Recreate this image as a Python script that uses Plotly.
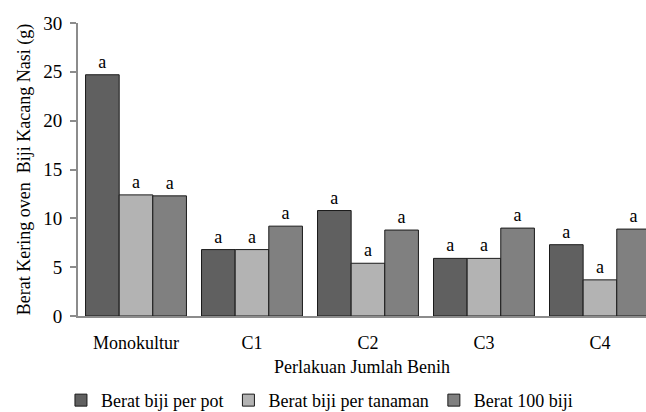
import plotly.graph_objects as go

# Treatment groups on the x axis
categories = ["Monokultur", "C1", "C2", "C3", "C4"]

# Oven-dry seed weight (g) per measure
berat_per_pot = [24.7, 6.8, 10.8, 5.9, 7.3]
berat_per_tanaman = [12.4, 6.8, 5.4, 5.9, 3.7]
berat_100_biji = [12.3, 9.2, 8.8, 9.0, 8.9]

# Significance letters shown above each bar
notasi_pot = ["a", "a", "a", "a", "a"]
notasi_tanaman = ["a", "a", "a", "a", "a"]
notasi_100 = ["a", "a", "a", "a", "a"]

series = [
    ("Berat biji per pot", berat_per_pot, notasi_pot, "#606060"),
    ("Berat biji per tanaman", berat_per_tanaman, notasi_tanaman, "#b3b3b3"),
    ("Berat 100 biji", berat_100_biji, notasi_100, "#808080"),
]

FONT = "Liberation Serif"

fig = go.Figure()
for name, vals, notes, color in series:
    fig.add_trace(go.Bar(
        name=name,
        x=categories,
        y=vals,
        text=notes,
        textposition="outside",
        textfont=dict(family=FONT, size=18, color="#000000"),
        cliponaxis=False,
        marker=dict(color=color, line=dict(color="#1a1a1a", width=1)),
    ))

fig.update_layout(
    width=646,
    height=412,
    margin=dict(l=78, r=0, t=23, b=96, autoexpand=False),
    paper_bgcolor="#ffffff",
    plot_bgcolor="#ffffff",
    barmode="group",
    bargap=0.13,
    bargroupgap=0,
    font=dict(family=FONT, size=18, color="#000000"),
    showlegend=True,
    legend=dict(
        orientation="h",
        x=-0.03,
        xanchor="left",
        y=-0.225,
        yanchor="top",
        font=dict(family=FONT, size=18, color="#000000"),
        bgcolor="rgba(0,0,0,0)",
        traceorder="normal",
    ),
    xaxis=dict(
        range=[-0.5, 4.397],
        showline=True,
        linecolor="#8c8c8c",
        linewidth=2,
        ticks="",
        showgrid=False,
        zeroline=False,
        ticklabelstandoff=9,
        tickfont=dict(family=FONT, size=18, color="#000000"),
        title=dict(text="Perlakuan Jumlah Benih", standoff=9,
                   font=dict(family=FONT, size=18, color="#000000")),
    ),
    yaxis=dict(
        range=[0, 30],
        tickvals=[0, 5, 10, 15, 20, 25, 30],
        showline=True,
        linecolor="#8c8c8c",
        linewidth=2,
        ticks="outside",
        ticklen=6,
        tickwidth=2,
        tickcolor="#8c8c8c",
        showgrid=False,
        zeroline=False,
        ticklabelstandoff=4,
        tickfont=dict(family=FONT, size=19, color="#000000"),
        title=dict(text="Berat Kering oven\u00a0 Biji Kacang Nasi (g)", standoff=8,
                   font=dict(family=FONT, size=18, color="#000000")),
    ),
)

fig.write_html("out.html")
